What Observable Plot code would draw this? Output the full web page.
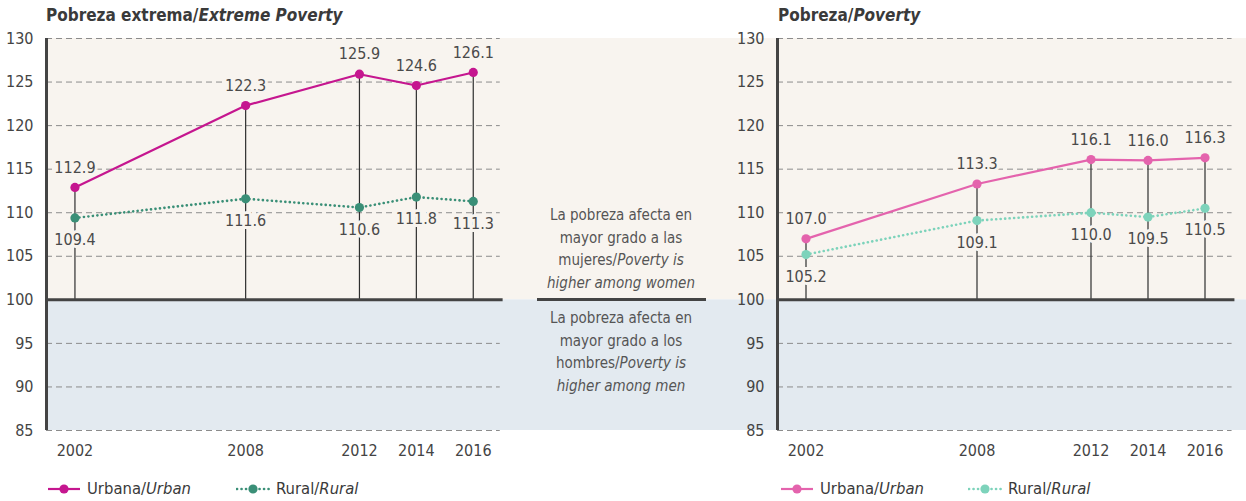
<!DOCTYPE html>
<html>
<head>
<meta charset="utf-8">
<script src="https://cdn.jsdelivr.net/npm/d3@7"></script>
<script src="https://cdn.jsdelivr.net/npm/@observablehq/plot@0.6"></script>
<style>
  html, body { margin: 0; padding: 0; background: #fff; }
  body { font-family: "Liberation Sans Narrow", "DejaVu Sans Condensed", "Roboto", sans-serif; color: #444; }
  #root { position: relative; width: 1246px; height: 501px; overflow: hidden; }
  .abs { position: absolute; }
  .title { font-weight: bold; font-size: 17px; color: #3a3a3a; white-space: nowrap; line-height: 1; }
  .note { font-size: 15px; line-height: 22.5px; text-align: center; color: #555; width: 200px; }
  .legend { font-size: 16.5px; color: #3a3a3a; white-space: nowrap; line-height: 1; display: flex; align-items: center; }
  .legend svg { display: block; margin-right: 6px; }
  i { font-style: italic; }
</style>
</head>
<body>
<div id="root"></div>
<script>
// ---- data ----
const years = [2002, 2008, 2012, 2014, 2016];
const extremeUrban = [112.9, 122.3, 125.9, 124.6, 126.1];
const extremeRural = [109.4, 111.6, 110.6, 111.8, 111.3];
const povertyUrban = [107.0, 113.3, 116.1, 116.0, 116.3];
const povertyRural = [105.2, 109.1, 110.0, 109.5, 110.5];
const yTicks = [85, 90, 95, 100, 105, 110, 115, 120, 125, 130];
const gridTicks = yTicks.filter(t => t !== 100);

const FONT = '"Liberation Sans Narrow", "DejaVu Sans Condensed", "Roboto", sans-serif';
const BEIGE = "#f8f4ef";
const BLUE = "#e3eaf0";
const colors = {
  extremeUrban: "#c5168f", extremeRural: "#3a8f77",
  povertyUrban: "#e463ad", povertyRural: "#7dd3bb"
};

const root = document.getElementById("root");
const fmt = d3.format(".1f");

function panel({urban, rural, urbanColor, ruralColor, width, marginLeft, xMax}) {
  const u = years.map((x, i) => ({x, y: urban[i]}));
  const r = years.map((x, i) => ({x, y: rural[i]}));
  const xMin = 2001, gridEnd = 2016.95, baseEnd = 2017.05;
  return Plot.plot({
    width, height: 470,
    marginLeft, marginRight: 0, marginTop: 38, marginBottom: 40,
    x: {domain: [xMin, xMax]},
    y: {domain: [85, 130]},
    style: {fontFamily: FONT, fontSize: "16px", color: "#444", background: "transparent", overflow: "visible"},
    marks: [
      Plot.rect([{y1: 100, y2: 130}], {x1: () => xMin, x2: () => xMax, y1: "y1", y2: "y2", fill: BEIGE}),
      Plot.rect([{y1: 85, y2: 100}], {x1: () => xMin, x2: () => xMax, y1: "y1", y2: "y2", fill: BLUE}),
      Plot.ruleY(gridTicks, {x1: xMin, x2: gridEnd, stroke: "#8c8c8c", strokeWidth: 1, strokeDasharray: "6,4"}),
      Plot.ruleX(u, {x: "x", y1: 100, y2: "y", stroke: "#2e2e2e", strokeWidth: 1.2}),
      Plot.ruleY([100], {x1: xMin, x2: baseEnd, stroke: "#444", strokeWidth: 3}),
      Plot.ruleX([xMin], {y1: 85, y2: 130, stroke: "#444", strokeWidth: 3}),
      Plot.axisY({ticks: yTicks, tickSize: 0, tickPadding: 13, tickFormat: "d", fill: "#444", fontSize: 16, label: null}),
      Plot.axisX({ticks: years, tickSize: 0, tickPadding: 14, tickFormat: "d", fill: "#444", fontSize: 16, label: null}),
      Plot.text(u, {x: "x", y: "y", text: d => fmt(d.y), dy: -20, fill: "#4a4a4a", stroke: BEIGE, strokeWidth: 6, fontSize: 16}),
      Plot.text(r, {x: "x", y: "y", text: d => fmt(d.y), dy: 22, fill: "#4a4a4a", stroke: BEIGE, strokeWidth: 6, fontSize: 16}),
      Plot.line(r, {x: "x", y: "y", stroke: ruralColor, strokeWidth: 2.6, strokeDasharray: "0.1,4.4", strokeLinecap: "round"}),
      Plot.line(u, {x: "x", y: "y", stroke: urbanColor, strokeWidth: 2.2}),
      Plot.dot(r, {x: "x", y: "y", r: 4.6, fill: ruralColor}),
      Plot.dot(u, {x: "x", y: "y", r: 4.6, fill: urbanColor})
    ]
  });
}

function place(el, left, top) {
  el.classList.add("abs");
  el.style.left = left + "px";
  el.style.top = top + "px";
  root.appendChild(el);
  return el;
}

// left panel (wide: its background runs under the middle note)
const left = panel({urban: extremeUrban, rural: extremeRural, urbanColor: colors.extremeUrban, ruralColor: colors.extremeRural,
  width: 778, marginLeft: 46, xMax: 2001 + 732 / 28.45});
place(left, 0, 0);

const right = panel({urban: povertyUrban, rural: povertyRural, urbanColor: colors.povertyUrban, ruralColor: colors.povertyRural,
  width: 516, marginLeft: 47, xMax: 2001 + 469 / 28.5});
place(right, 730, 0);

// titles
function html(tag, cls, inner) { const e = document.createElement(tag); e.className = cls; e.innerHTML = inner; return e; }
place(html("div", "title", "Pobreza extrema/<i>Extreme Poverty</i>"), 46, 7);
place(html("div", "title", "Pobreza/<i>Poverty</i>"), 778, 7);

// middle notes
place(html("div", "note", "La pobreza afecta en<br>mayor grado a las<br>mujeres/<i>Poverty is<br>higher among women</i>"), 521, 204);
place(html("div", "note", "La pobreza afecta en<br>mayor grado a los<br>hombres/<i>Poverty is<br>higher among men</i>"), 521, 307);
const divider = document.createElement("div");
divider.style.cssText = "width:169px;height:0;border-top:3px solid #444;";
place(divider, 537, 297.5);

// legends
function legendItem(color, dotted, label) {
  const d = document.createElement("div");
  d.className = "legend";
  const dash = dotted ? 'stroke-dasharray="0.1,4.4" stroke-linecap="round" stroke-width="2.6"' : 'stroke-width="2.2"';
  d.innerHTML = `<svg width="34" height="12"><line x1="1" y1="6" x2="33" y2="6" stroke="${color}" ${dash}/><circle cx="17" cy="6" r="4.6" fill="${color}"/></svg>${label}`;
  return d;
}
place(legendItem(colors.extremeUrban, false, "Urbana/<i>Urban</i>"), 47, 481);
place(legendItem(colors.extremeRural, true, "Rural/<i>Rural</i>"), 236, 481);
place(legendItem(colors.povertyUrban, false, "Urbana/<i>Urban</i>"), 780, 481);
place(legendItem(colors.povertyRural, true, "Rural/<i>Rural</i>"), 968, 481);
</script>
</body>
</html>
